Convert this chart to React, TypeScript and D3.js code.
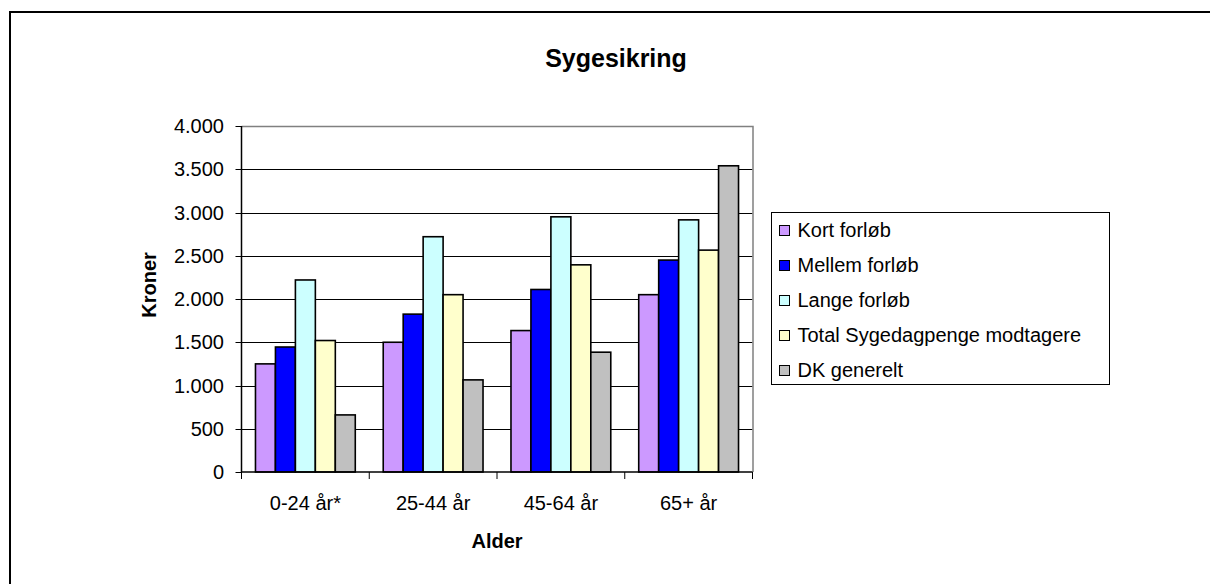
import React, { useEffect, useRef } from "react";
import * as d3 from "d3";

const categories = ["0-24 år*", "25-44 år", "45-64 år", "65+ år"];
const seriesNames = ["Kort forløb", "Mellem forløb", "Lange forløb", "Total Sygedagpenge modtagere", "DK generelt"];
const seriesColors = ["#CC99FF", "#0000FF", "#CCFFFF", "#FFFFCC", "#C0C0C0"];
const kortForlob = [1250, 1500, 1635, 2050];
const mellemForlob = [1445, 1825, 2110, 2450];
const langeForlob = [2220, 2720, 2950, 2915];
const totalSygedagpenge = [1520, 2050, 2395, 2565];
const dkGenerelt = [660, 1065, 1385, 3540];
const yTicks = [0, 500, 1000, 1500, 2000, 2500, 3000, 3500, 4000];
const title = "Sygesikring";
const xTitle = "Alder";
const yTitle = "Kroner";

const FONT = "'Liberation Sans', Arial, Helvetica, sans-serif";

export default function App() {
  const ref = useRef<SVGSVGElement | null>(null);

  useEffect(() => {
    const svg = d3.select(ref.current);
    svg.selectAll("*").remove();

    const W = 1210, H = 584;
    const left = 241.5, right = 752.5, top = 126, bottom = 472;
    const values = [kortForlob, mellemForlob, langeForlob, totalSygedagpenge, dkGenerelt];

    // outer chart border (only top and left visible in window)
    svg.append("line").attr("x1", 9).attr("x2", W).attr("y1", 12).attr("y2", 12)
      .attr("stroke", "black").attr("stroke-width", 2);
    svg.append("line").attr("x1", 10).attr("x2", 10).attr("y1", 11).attr("y2", H)
      .attr("stroke", "black").attr("stroke-width", 2);

    const x0 = d3.scaleBand<string>().domain(categories).range([left, right]).paddingInner(0).paddingOuter(0);
    const x1 = d3.scaleBand<number>().domain(d3.range(seriesNames.length)).range([0, x0.bandwidth()])
      .paddingInner(0).paddingOuter(0.7);
    const y = d3.scaleLinear().domain([0, 4000]).range([bottom, top]);

    const loc = d3.formatLocale({ decimal: ",", thousands: ".", grouping: [3], currency: ["", ""] });
    const fmt = loc.format(",d");

    // gridlines
    svg.append("g").selectAll("line").data(yTicks.filter((t) => t > 0 && t < 4000)).join("line")
      .attr("x1", left).attr("x2", right)
      .attr("y1", (d) => Math.round(y(d)) + 0.5).attr("y2", (d) => Math.round(y(d)) + 0.5)
      .attr("stroke", "#000").attr("stroke-width", 1);

    // plot border top/right (gray)
    svg.append("path")
      .attr("d", `M${left},${top + 0.5}H${right + 0.5}V${bottom}`)
      .attr("fill", "none").attr("stroke", "#808080").attr("stroke-width", 1.5);

    // bars
    const g = svg.append("g");
    categories.forEach((c, ci) => {
      values.forEach((vals, si) => {
        const xv = (x0(c) as number) + (x1(si) as number);
        g.append("rect")
          .attr("x", xv).attr("width", x1.bandwidth())
          .attr("y", y(vals[ci])).attr("height", bottom - y(vals[ci]))
          .attr("fill", seriesColors[si]).attr("stroke", "#000").attr("stroke-width", 1.6);
      });
    });

    // y axis
    svg.append("line").attr("x1", left).attr("x2", left).attr("y1", top).attr("y2", bottom)
      .attr("stroke", "#000").attr("stroke-width", 1.5);
    svg.append("g").selectAll("line").data(yTicks).join("line")
      .attr("x1", left - 6).attr("x2", left)
      .attr("y1", (d) => Math.round(y(d)) + 0.5).attr("y2", (d) => Math.round(y(d)) + 0.5)
      .attr("stroke", "#000");
    svg.append("g").selectAll("text").data(yTicks).join("text")
      .attr("x", 224).attr("y", (d) => y(d) + 7)
      .attr("text-anchor", "end").attr("font-family", FONT).attr("font-size", 20)
      .attr("fill", "#000").text((d) => fmt(d));

    // x axis
    svg.append("line").attr("x1", left).attr("x2", right).attr("y1", bottom).attr("y2", bottom)
      .attr("stroke", "#000").attr("stroke-width", 1.5);
    const xTickPos = categories.map((c) => x0(c) as number).concat([right]);
    svg.append("g").selectAll("line").data(xTickPos).join("line")
      .attr("x1", (d) => d).attr("x2", (d) => d).attr("y1", bottom).attr("y2", bottom + 7)
      .attr("stroke", "#000").attr("stroke-width", 1);
    svg.append("g").selectAll("text").data(categories).join("text")
      .attr("x", (d) => (x0(d) as number) + x0.bandwidth() / 2).attr("y", 510)
      .attr("text-anchor", "middle").attr("font-family", FONT).attr("font-size", 20)
      .attr("fill", "#000").text((d) => d);

    // titles
    svg.append("text").attr("x", 616).attr("y", 67).attr("text-anchor", "middle")
      .attr("font-family", FONT).attr("font-size", 25).attr("font-weight", "bold").text(title);
    svg.append("text").attr("x", (left + right) / 2).attr("y", 548).attr("text-anchor", "middle")
      .attr("font-family", FONT).attr("font-size", 20).attr("font-weight", "bold").text(xTitle);
    svg.append("text").attr("transform", "translate(156,285) rotate(-90)").attr("text-anchor", "middle")
      .attr("font-family", FONT).attr("font-size", 20).attr("font-weight", "bold").text(yTitle);

    // legend
    const lg = svg.append("g");
    lg.append("rect").attr("x", 771.5).attr("y", 212.5).attr("width", 338).attr("height", 172)
      .attr("fill", "white").attr("stroke", "#000").attr("stroke-width", 1);
    seriesNames.forEach((name, i) => {
      const yy = 236.5 + i * 35;
      lg.append("rect").attr("x", 779.5).attr("y", yy - 11).attr("width", 10).attr("height", 10)
        .attr("fill", seriesColors[i]).attr("stroke", "#000").attr("stroke-width", 1);
      lg.append("text").attr("x", 797.5).attr("y", yy).attr("font-family", FONT).attr("font-size", 20)
        .attr("fill", "#000").text(name);
    });
  }, []);

  return (
    <svg
      ref={ref}
      width={1210}
      height={584}
      style={{ position: "absolute", left: 0, top: 0, background: "white", display: "block" }}
    />
  );
}
